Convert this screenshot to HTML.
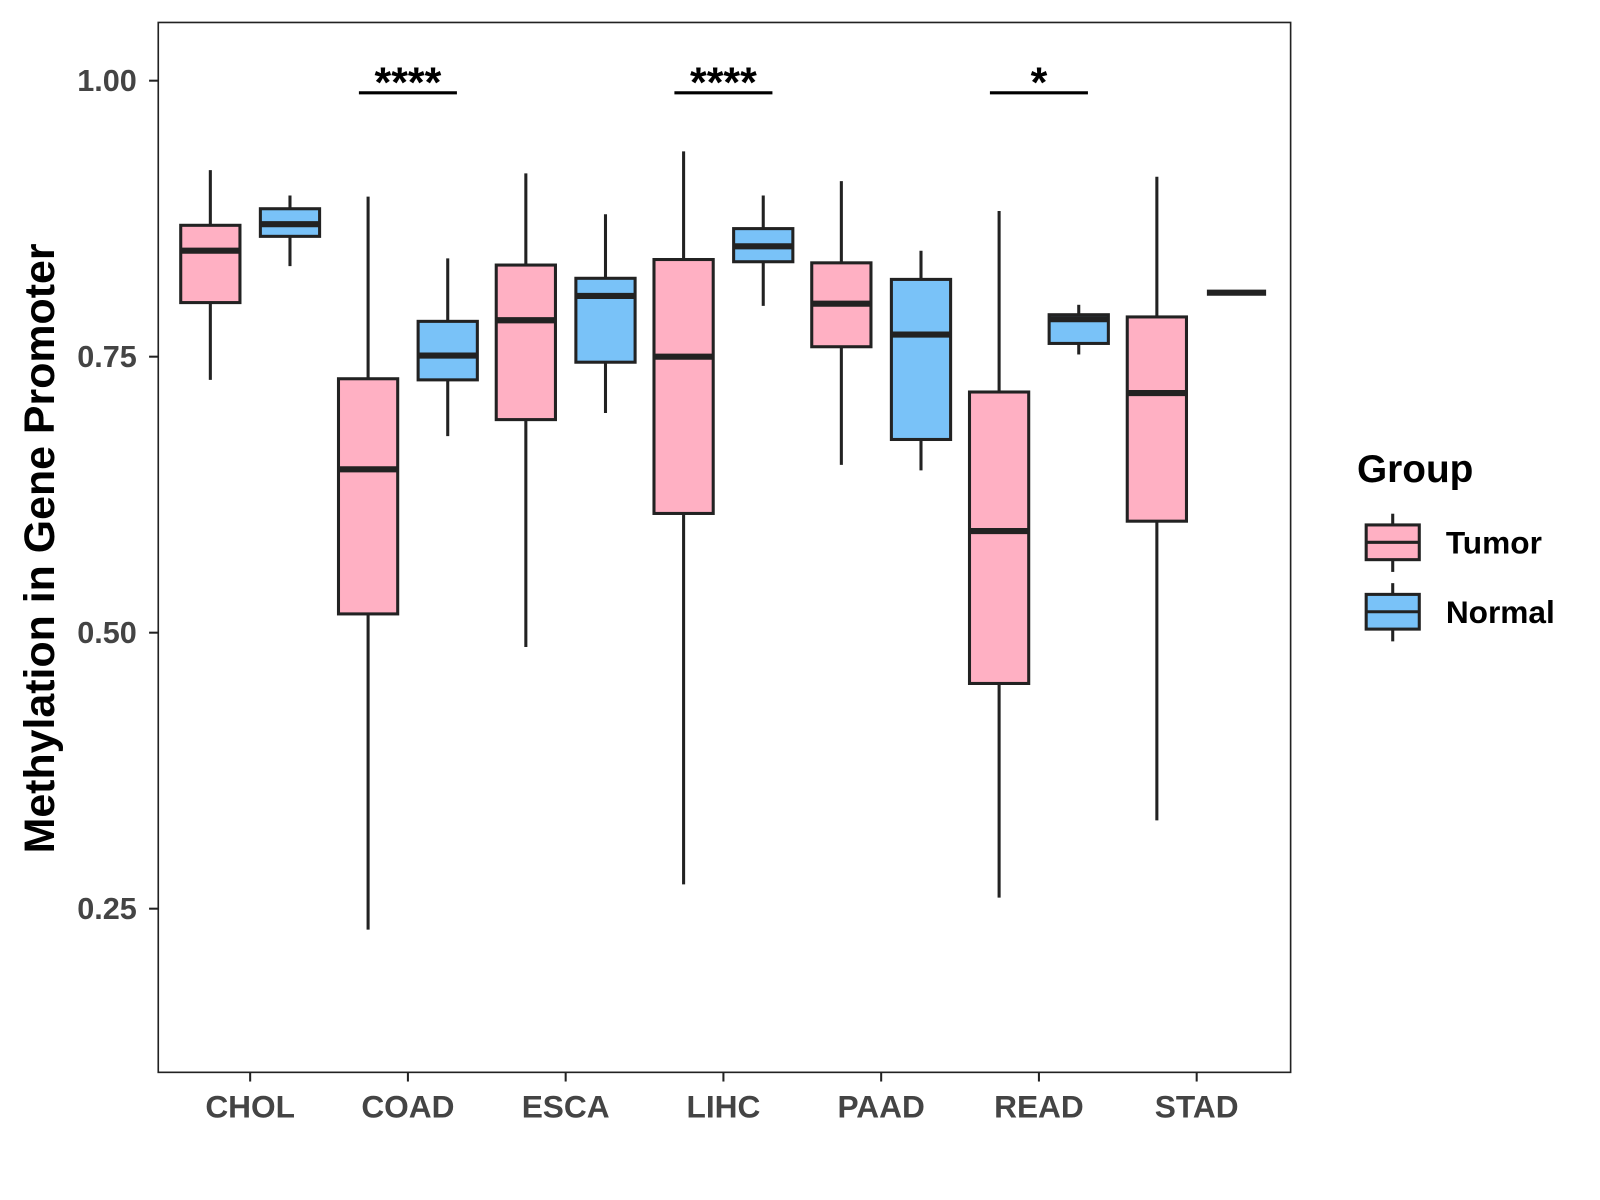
<!DOCTYPE html>
<html><head><meta charset="utf-8"><style>
html,body{margin:0;padding:0;background:#fff;}
svg{display:block;font-family:"Liberation Sans",Arial,sans-serif;}
</style></head><body>
<svg id="chart" width="1600" height="1200" viewBox="0 0 1567 1175" preserveAspectRatio="none" xmlns="http://www.w3.org/2000/svg">
<rect x="0" y="0" width="1567" height="1175" fill="#fff"/>
<g id="marks"></g>
<rect x="155" y="22" width="1109" height="1028" fill="none" stroke="#222" stroke-width="1.6"/>
<g id="axes"></g>
<text transform="translate(53,537) rotate(-90)" text-anchor="middle" font-size="42" font-weight="bold" fill="#000">Methylation in Gene Promoter</text>
<g>
<text x="1329" y="472" font-size="38" font-weight="bold" fill="#000">Group</text>
<g>
<line x1="1364" y1="503" x2="1364" y2="560" stroke="#222" stroke-width="3"/>
<rect x="1338" y="514" width="52" height="34" fill="#FFB0C3" stroke="#222" stroke-width="3"/>
<line x1="1338" y1="531" x2="1390" y2="531" stroke="#222" stroke-width="3"/>
<text x="1416" y="542" font-size="31" font-weight="bold" fill="#000">Tumor</text>
</g>
<g>
<line x1="1364" y1="571" x2="1364" y2="628" stroke="#222" stroke-width="3"/>
<rect x="1338" y="582" width="52" height="34" fill="#79C2F8" stroke="#222" stroke-width="3"/>
<line x1="1338" y1="599" x2="1390" y2="599" stroke="#222" stroke-width="3"/>
<text x="1416" y="610" font-size="31" font-weight="bold" fill="#000">Normal</text>
</g>
</g>
</svg>
<script>
const categories = ["CHOL","COAD","ESCA","LIHC","PAAD","READ","STAD"];
// [whiskerLow, q1, median, q3, whiskerHigh]
const tumorStats = [
 [0.729,0.799,0.846,0.869,0.919],
 [0.231,0.517,0.648,0.730,0.895],
 [0.487,0.693,0.783,0.833,0.916],
 [0.272,0.608,0.750,0.838,0.936],
 [0.652,0.759,0.798,0.835,0.909],
 [0.260,0.454,0.592,0.718,0.882],
 [0.330,0.601,0.717,0.786,0.913]
];
const normalStats = [
 [0.832,0.859,0.870,0.884,0.896],
 [0.678,0.729,0.751,0.782,0.839],
 [0.699,0.745,0.805,0.821,0.879],
 [0.796,0.836,0.850,0.866,0.896],
 [0.647,0.675,0.770,0.820,0.846],
 [0.752,0.762,0.784,0.788,0.797],
 [0.808,0.808,0.808,0.808,0.808]
];
const sigCategories = ["COAD","LIHC","READ"];
const sigLabels = ["****","****","*"];
const sigY = [0.989,0.989,0.989];
const yTicks = [0.25,0.50,0.75,1.00];
const yTickLabels = ["0.25","0.50","0.75","1.00"];

const NS="http://www.w3.org/2000/svg";
function yScale(v){ return 79 + (1 - v) * 1081; }
function xScale(i){ return 245 + i * 154.5; }
const dodge = 39, boxW = 58;
function mk(tag, attrs, parent){
  const e=document.createElementNS(NS,tag);
  for(const k in attrs) e.setAttribute(k,attrs[k]);
  parent.appendChild(e); return e;
}
const marks=document.getElementById('marks');
const axes=document.getElementById('axes');
function drawBox(s, cx, fill, name){
  const g=mk('g',{},marks);
  
  
  mk('line',{x1:cx,x2:cx,y1:yScale(s[4]),y2:yScale(s[0]),stroke:'#222','stroke-width':3},g);
  const h=Math.max(yScale(s[1])-yScale(s[3]),0);
  mk('rect',{x:cx-boxW/2,y:yScale(s[3]),width:boxW,height:h,fill:fill,stroke:'#222','stroke-width':3},g);
  mk('line',{x1:cx-boxW/2,x2:cx+boxW/2,y1:yScale(s[2]),y2:yScale(s[2]),stroke:'#222','stroke-width':6},g);
}
categories.forEach((c,i)=>{
  drawBox(tumorStats[i], xScale(i)-dodge, '#FFB0C3', 'box-tumor-'+c.toLowerCase());
  drawBox(normalStats[i], xScale(i)+dodge, '#79C2F8', 'box-normal-'+c.toLowerCase());
  const t=mk('line',{x1:xScale(i),x2:xScale(i),y1:1050,y2:1059,stroke:'#222','stroke-width':2},axes);
  
  
  const tx=mk('text',{x:xScale(i),y:1094,'text-anchor':'middle','font-size':31,'font-weight':'bold',fill:'#444'},axes);
  tx.textContent=c;
  
  
});
yTicks.forEach((v,i)=>{
  const t=mk('line',{x1:146,x2:155,y1:yScale(v),y2:yScale(v),stroke:'#222','stroke-width':2},axes);
  
  
  const tx=mk('text',{x:134,y:yScale(v)+10,'text-anchor':'end','font-size':30,'font-weight':'bold',fill:'#444'},axes);
  tx.textContent=yTickLabels[i];
  
  
});
sigCategories.forEach((c,k)=>{
  const i=categories.indexOf(c);
  const y=yScale(sigY[k]);
  const l=mk('line',{x1:xScale(i)-48,x2:xScale(i)+48,y1:y,y2:y,stroke:'#000','stroke-width':3},marks);
  
  
  const tx=mk('text',{x:xScale(i),y:y+4,'text-anchor':'middle','font-size':42,'font-weight':'bold',fill:'#000'},marks);
  tx.textContent=sigLabels[k];
  
  
});
</script>
</body></html>
